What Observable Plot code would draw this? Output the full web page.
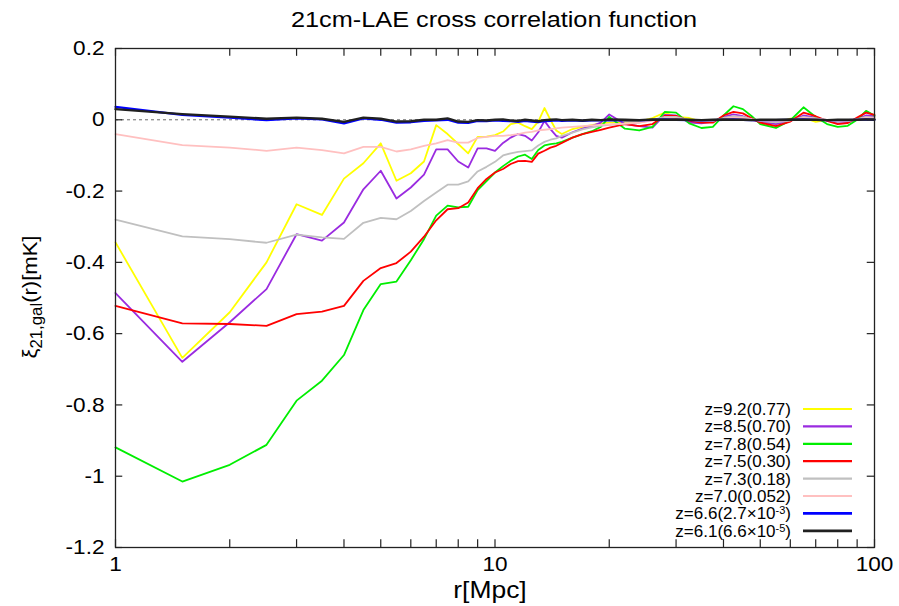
<!DOCTYPE html>
<html><head><meta charset="utf-8">
<script src="https://cdn.jsdelivr.net/npm/d3@7"></script>
<script src="https://cdn.jsdelivr.net/npm/@observablehq/plot@0.6"></script>
<style>body{margin:0;background:#fff;} svg{display:block}</style>
</head><body><div id="chart"></div>
<script>
const r = [1,1.5,2,2.5,3,3.5,4,4.5,5,5.5,6,6.5,7,7.5,8,8.5,9,9.5,10,10.5,11,11.5,12,12.5,13,13.5,14,14.5,15,16,17,18,19,20,22,24,26,28,30,32.5,35,37.5,40,42.5,45,47.5,50,55,60,65,70,75,80,85,90,95,100];

const z92 = [-0.344,-0.668,-0.54,-0.40,-0.237,-0.267,-0.165,-0.122,-0.066,-0.171,-0.15,-0.117,-0.015,-0.04,-0.068,-0.094,-0.048,-0.047,-0.043,
 -0.033,-0.012,-0.008,-0.018,-0.026,-0.005,0.033,0.0,-0.03,-0.04,
 -0.026,-0.02,-0.015,-0.01,-0.008,
 -0.006,-0.005,0.005,0.02,0.008,
 0.005,-0.005,-0.003,0.004,0.008,0.005,0.0,-0.004,
 -0.01,0.003,0.006,-0.006,0.0,-0.005,-0.004,0.002,0.006,0.008];
const z85 = [-0.486,-0.679,-0.568,-0.475,-0.321,-0.339,-0.288,-0.195,-0.143,-0.221,-0.19,-0.154,-0.083,-0.083,-0.117,-0.134,-0.08,-0.08,-0.087,
 -0.065,-0.05,-0.04,-0.045,-0.058,-0.035,-0.003,-0.026,-0.045,-0.05,
 -0.035,-0.025,-0.018,-0.008,0.015,
 -0.012,-0.018,-0.022,0.014,0.012,
 -0.008,-0.01,-0.005,0.008,0.015,0.01,0.0,-0.006,
 -0.012,-0.003,0.012,0.006,-0.002,-0.01,-0.008,0.003,0.012,0.01];
const z78 = [-0.919,-1.015,-0.968,-0.912,-0.788,-0.732,-0.660,-0.534,-0.461,-0.454,-0.394,-0.335,-0.269,-0.241,-0.246,-0.244,-0.197,-0.172,-0.148,
 -0.13,-0.115,-0.103,-0.098,-0.11,-0.085,-0.072,-0.068,-0.066,-0.062,
 -0.05,-0.04,-0.032,-0.02,0.008,
 -0.025,-0.03,-0.02,0.022,0.02,
 -0.01,-0.023,-0.02,0.012,0.038,0.03,0.01,-0.012,
 -0.023,-0.002,0.035,0.008,-0.012,-0.02,-0.017,0.0,0.025,0.012];
const z75 = [-0.522,-0.571,-0.573,-0.578,-0.545,-0.538,-0.522,-0.452,-0.416,-0.402,-0.37,-0.328,-0.282,-0.251,-0.248,-0.232,-0.192,-0.166,-0.148,
 -0.138,-0.124,-0.116,-0.115,-0.118,-0.095,-0.087,-0.078,-0.073,-0.065,
 -0.05,-0.04,-0.034,-0.028,-0.022,
 -0.012,-0.018,-0.012,0.011,0.011,
 -0.003,-0.008,-0.008,0.012,0.022,0.018,0.004,-0.008,
 -0.018,-0.005,0.02,0.01,-0.003,-0.012,-0.009,0.006,0.02,0.014];
const z73 = [-0.28,-0.327,-0.335,-0.345,-0.322,-0.33,-0.334,-0.289,-0.275,-0.279,-0.256,-0.228,-0.204,-0.182,-0.182,-0.173,-0.145,-0.132,-0.118,
 -0.1,-0.094,-0.09,-0.088,-0.086,-0.072,-0.062,-0.056,-0.052,-0.045,
 -0.036,-0.027,-0.021,-0.017,-0.014,
 -0.011,-0.008,0.0,0.008,0.008,
 0.0,-0.004,-0.003,0.005,0.01,0.008,0.002,-0.003,
 -0.007,-0.002,0.008,0.004,0.0,-0.005,-0.004,0.002,0.008,0.006];
const z70 = [-0.04,-0.071,-0.078,-0.087,-0.078,-0.085,-0.094,-0.076,-0.076,-0.089,-0.083,-0.073,-0.066,-0.057,-0.064,-0.064,-0.051,-0.048,-0.045,
 -0.045,-0.043,-0.04,-0.036,-0.034,-0.03,-0.028,-0.026,-0.024,-0.022,
 -0.02,-0.018,-0.016,-0.014,-0.013,
 -0.011,-0.008,-0.002,0.004,0.004,
 0.0,-0.002,-0.002,0.003,0.006,0.005,0.001,-0.002,
 -0.004,-0.001,0.005,0.003,0.0,-0.003,-0.003,0.001,0.005,0.004];
const z66 = [0.036,0.014,0.006,-0.001,0.004,0.001,-0.01,0.004,0.0,-0.008,-0.007,-0.003,-0.002,0.0,-0.008,-0.009,-0.003,-0.004,-0.002,
 -0.003,-0.004,-0.006,-0.003,-0.005,-0.007,-0.004,-0.003,-0.002,-0.003,
 -0.002,-0.003,-0.002,-0.002,-0.001,
 -0.002,-0.002,0.0,0.001,0.0,
 -0.001,-0.002,-0.001,0.0,0.001,0.0,-0.001,-0.001,
 -0.001,0.0,0.001,0.0,-0.001,-0.001,-0.001,0.0,0.001,0.0];
const z61 = [0.03,0.016,0.009,0.003,0.006,0.003,-0.006,0.006,0.003,-0.005,-0.004,0.0,0.0,0.004,-0.005,-0.006,-0.001,-0.002,0.0,
 0.001,-0.002,-0.003,0.0,-0.002,-0.004,-0.001,0.0,0.001,-0.001,
 0.0,-0.002,0.0,-0.001,0.001,
 0.0,-0.001,0.001,0.0,0.001,
 0.0,-0.001,0.0,0.001,0.0,0.0,-0.001,0.0,
 0.0,0.001,0.0,0.0,-0.001,0.0,0.0,0.0,0.001,0.001];

const seriesValues = [z92, z85, z78, z75, z73, z70, z66, z61];
const seriesNames = ["z=9.2(0.77)","z=8.5(0.70)","z=7.8(0.54)","z=7.5(0.30)","z=7.3(0.18)","z=7.0(0.052)","z=6.6(2.7×10^-3)","z=6.1(6.6×10^-5)"];
const seriesColors = ["#ffff00","#9a2be0","#00ee00","#ff0000","#c0c0c0","#ffc0c0","#0000ff","#202020"];
const seriesWidths = [1.8,1.8,1.8,1.8,1.8,1.8,2.2,2.4];

const xTickLabels = [1,10,100];
const xTicks = [1,2,3,4,5,6,7,8,9,10,20,30,40,50,60,70,80,90,100];
const yTicks = [0.2,0,-0.2,-0.4,-0.6,-0.8,-1,-1.2];

const rows = seriesValues.map((vals,i) => vals.map((v,j) => ({r: r[j], v, s: i})));

const W = 899, H = 606;
const font = "'Liberation Sans', Arial, Helvetica, sans-serif";

const plot = Plot.plot({
  width: W, height: H,
  marginLeft: 115, marginRight: 25, marginTop: 48, marginBottom: 59,
  style: {fontFamily: font, fontSize: "20px", background: "#fff", color: "#000"},
  x: {type: "log", domain: [1,100], label: null},
  y: {domain: [-1.2,0.2], label: null},
  marks: [
    Plot.ruleY([0], {stroke: "#444", strokeWidth: 0.8, strokeDasharray: "3,3"}),
    ...rows.map((d,i) => Plot.line(d, {x: "r", y: "v", stroke: seriesColors[i], strokeWidth: seriesWidths[i]})),
    Plot.ruleX(xTicks, {x: d => d, y1: -1.2, y2: -1.178, stroke: "#222", strokeWidth: 1.2}),
    Plot.ruleX(xTicks, {x: d => d, y1: 0.2, y2: 0.178, stroke: "#222", strokeWidth: 1.2}),
    Plot.ruleY(yTicks, {y: d => d, x1: 1, x2: 1.045, stroke: "#222", strokeWidth: 1.2}),
    Plot.ruleY(yTicks, {y: d => d, x1: 100/1.045, x2: 100, stroke: "#222", strokeWidth: 1.2}),
    Plot.frame({stroke: "#222", strokeWidth: 1.3}),
    Plot.axisX({ticks: xTickLabels, tickSize: 0, tickPadding: 9, tickFormat: d => String(d), label: null}),
    Plot.axisY({ticks: yTicks, tickSize: 0, tickPadding: 11, tickFormat: d => String(d), label: null})
  ]
});
document.getElementById("chart").appendChild(plot);

const svg = d3.select(plot);
// widen the axis tick labels slightly, like the reference's rendering
svg.selectAll('g[aria-label="y-axis tick label"] text, g[aria-label="x-axis tick label"] text').each(function() {
  const t = this.getAttribute("transform") || "";
  this.setAttribute("transform", t + " scale(1.13,1.03)");
});
// title
svg.append("text").attr("transform","translate(494,27) scale(1.15,1)").attr("text-anchor","middle")
  .style("font-family", font).style("font-size","22px").text("21cm-LAE cross correlation function");
// x label
svg.append("text").attr("transform","translate(490,598) scale(1.15,1)").attr("text-anchor","middle")
  .style("font-family", font).style("font-size","23px").text("r[Mpc]");
// y label
const yl = svg.append("text").attr("transform","translate(37,297) rotate(-90) scale(1.05,1)").attr("text-anchor","middle")
  .style("font-family", font).style("font-size","21px");
yl.append("tspan").text("ξ");
yl.append("tspan").attr("font-size","16px").attr("dy","5").text("21,gal");
yl.append("tspan").attr("dy","-5").text("(r)[mK]");

// legend
const lg = svg.append("g").style("font-family", font).style("font-size","17px");
seriesNames.forEach((name,i) => {
  const cy = 409 + i*17.4;
  const t = lg.append("text").attr("x", 791).attr("y", cy + 6).attr("text-anchor","end");
  const parts = name.split("^");
  if (parts.length === 1) t.text(name);
  else {
    const sup = parts[1].slice(0, -1);
    t.append("tspan").text(parts[0]);
    t.append("tspan").attr("dy","-5").attr("font-size","11px").text(sup);
    t.append("tspan").attr("dy","5").text(")");
  }
  lg.append("line").attr("x1", 803).attr("x2", 852).attr("y1", cy).attr("y2", cy)
    .attr("stroke", seriesColors[i]).attr("stroke-width", seriesWidths[i] + 0.4);
});
</script>
</body></html>
